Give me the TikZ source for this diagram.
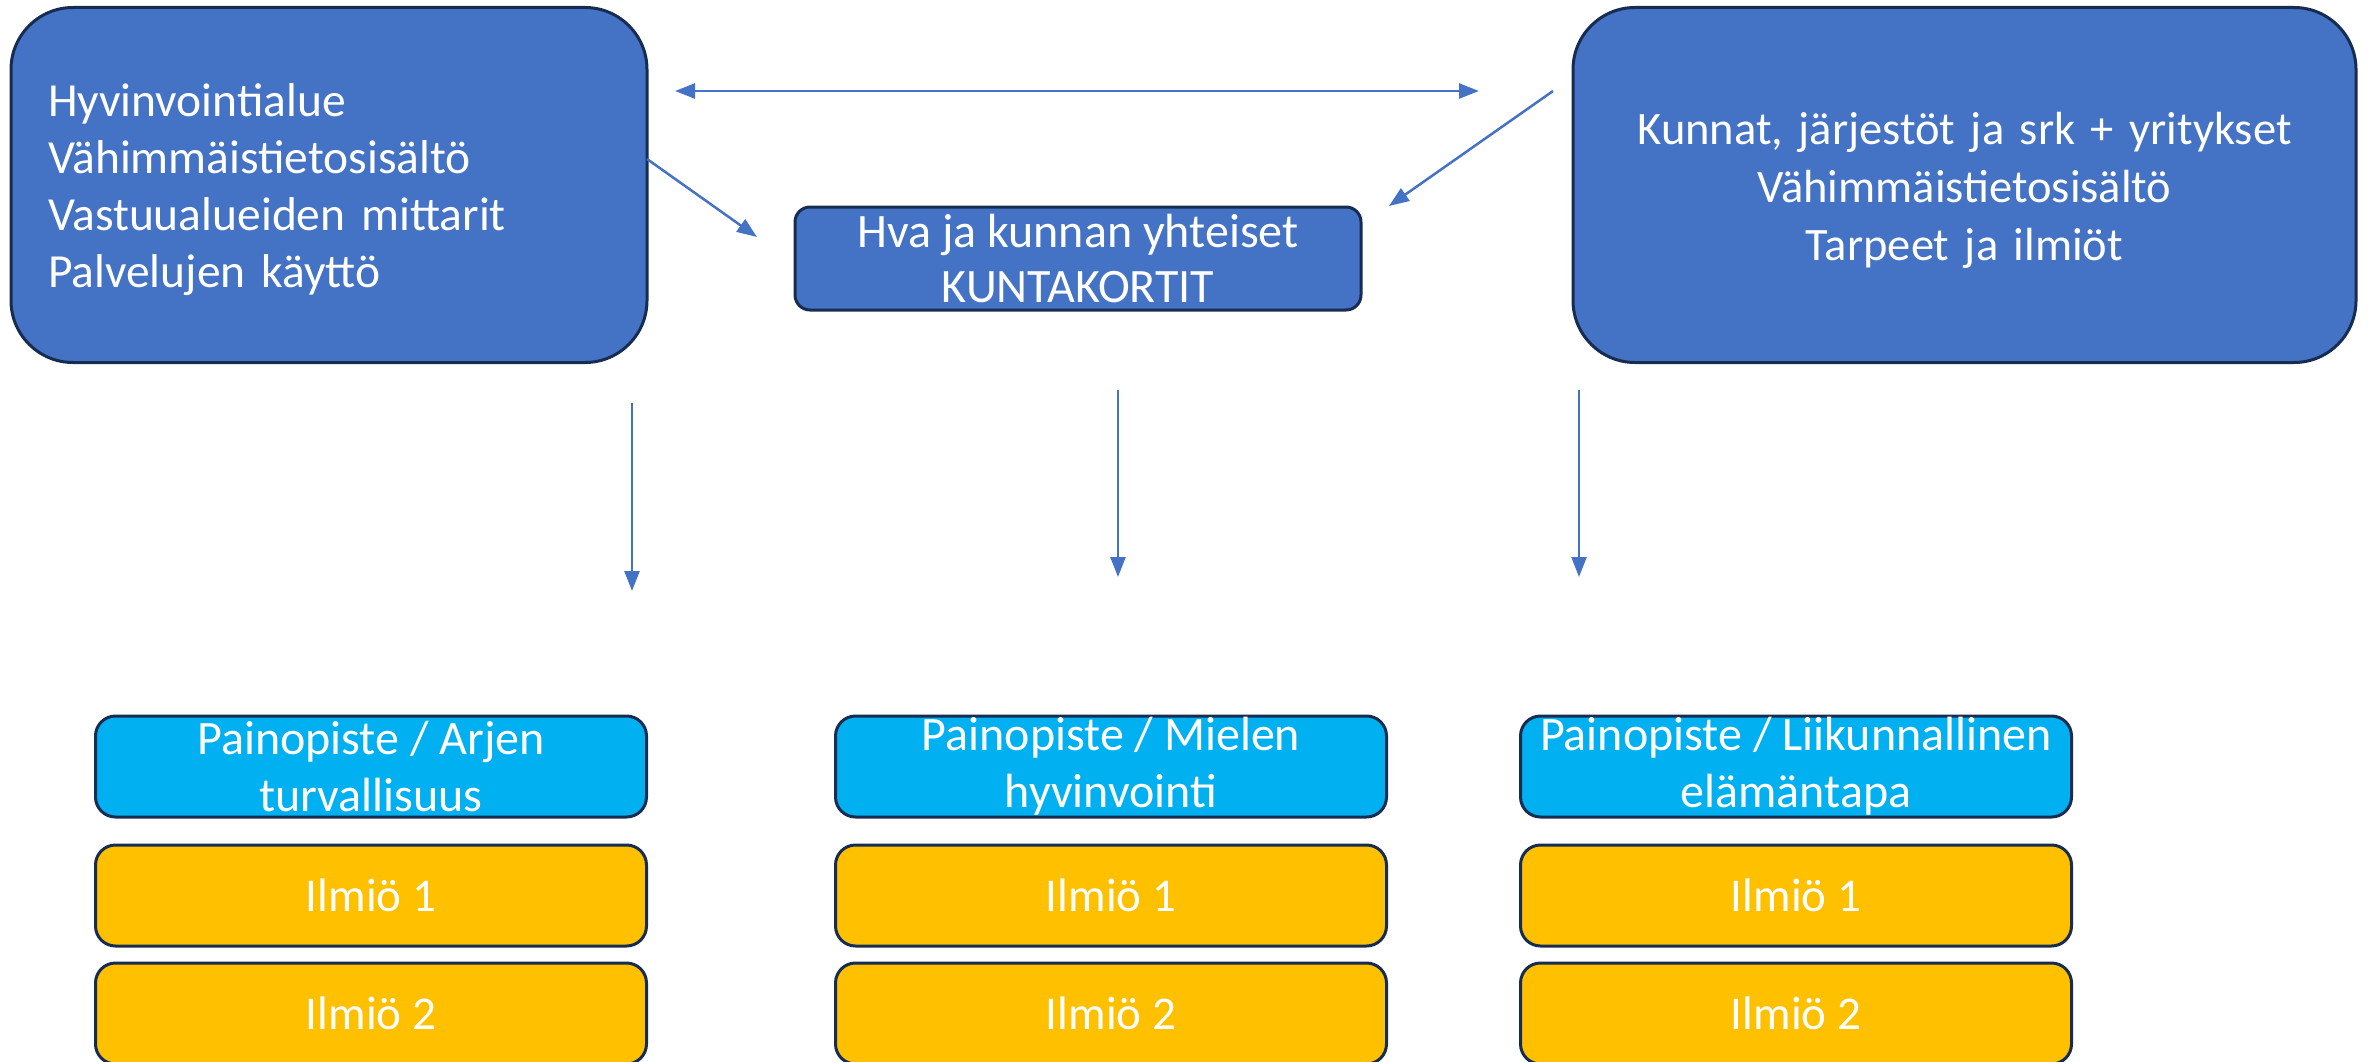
\documentclass[tikz,border=0pt]{standalone}
\usepackage{fontspec}
\setmainfont{Carlito}
\usetikzlibrary{arrows.meta}
\definecolor{boxblue}{HTML}{4472C4}
\definecolor{edgecol}{HTML}{172C51}
\definecolor{cyanbox}{HTML}{00B0F0}
\definecolor{orangebox}{HTML}{FFC000}
\begin{document}
\begin{tikzpicture}[x=1pt,y=-1pt,
  basebox/.style={draw=edgecol, line width=3pt, text=white, inner sep=0pt, anchor=center},
  bigbox/.style={basebox, fill=boxblue, rounded corners=62pt, minimum height=355pt},
  bigtext/.style={text=white, anchor=center, inner sep=0pt},
  midbox/.style={basebox, fill=boxblue, rounded corners=15pt, minimum width=566pt, minimum height=103pt, font=\fontsize{48}{55}\selectfont, align=center},
  focusbox/.style={basebox, fill=cyanbox, rounded corners=20pt, minimum width=551pt, minimum height=101pt, font=\fontsize{48}{57}\selectfont, align=center},
  phenbox/.style={basebox, fill=orangebox, rounded corners=20pt, minimum width=551pt, minimum height=101pt, font=\fontsize{47}{55}\selectfont, align=center},
  conn/.style={draw=boxblue, line width=2.5pt, -{Triangle[length=20pt,width=15pt]}},
  dconn/.style={draw=boxblue, line width=2.5pt, {Triangle[length=20pt,width=15pt]}-{Triangle[length=20pt,width=15pt]}}
]
\useasboundingbox (0,0) rectangle (2369,1062);
\clip (0,0) rectangle (2369,1062);

\node[bigbox, minimum width=636pt] (hva) at (329,185) {};
\node[bigtext, text width=562pt, align=left, font=\fontsize{47.5}{57}\selectfont] (hvatext) at (329,190)
  {Hyvinvointialue\\Vähimmäistietosisältö\\Vastuualueiden mittarit\\Palvelujen käyttö};
\node[bigbox, minimum width=783pt] (kunnat) at (1964.5,185) {};
\node[bigtext, text width=760pt, align=center, font=\fontsize{46.5}{58}\selectfont] (kunnattext) at (1964.5,190)
  {Kunnat, järjestöt ja srk + yritykset\\Vähimmäistietosisältö\\Tarpeet ja ilmiöt};
\node[midbox] (kortit) at (1078,258.5) {Hva ja kunnan yhteiset\\KUNTAKORTIT};

\node[focusbox] (p1) at (371,766.5) {Painopiste / Arjen\\turvallisuus};
\node[focusbox] (p2) at (1111,766.5) {Painopiste / Mielen\\hyvinvointi};
\node[focusbox] (p3) at (1796,766.5) {Painopiste / Liikunnallinen\\elämäntapa};

\node[phenbox] (a1) at (371,895.5) {Ilmiö 1};
\node[phenbox] (b1) at (1111,895.5) {Ilmiö 1};
\node[phenbox] (c1) at (1796,895.5) {Ilmiö 1};
\node[phenbox] (a2) at (371,1013.5) {Ilmiö 2};
\node[phenbox] (b2) at (1111,1013.5) {Ilmiö 2};
\node[phenbox] (c2) at (1796,1013.5) {Ilmiö 2};

\coordinate (dA) at (675,91);
\coordinate (dB) at (1479,91);
\coordinate (lS) at (647,159);
\coordinate (lE) at (757,237);
\coordinate (rS) at (1553,91);
\coordinate (rE) at (1389,206);
\coordinate (v1s) at (632,403);
\coordinate (v1e) at (632,591);
\coordinate (v2s) at (1118,390);
\coordinate (v2e) at (1118,577);
\coordinate (v3s) at (1579,390);
\coordinate (v3e) at (1579,577);

\draw[dconn] (dA) -- (dB);
\draw[conn] (lS) -- (lE);
\draw[conn] (rS) -- (rE);
\draw[conn] (v1s) -- (v1e);
\draw[conn] (v2s) -- (v2e);
\draw[conn] (v3s) -- (v3e);
\end{tikzpicture}
\end{document}
